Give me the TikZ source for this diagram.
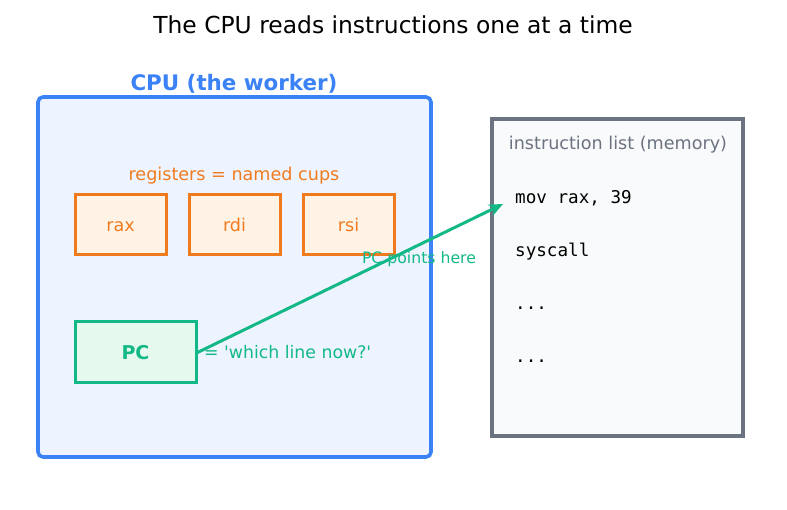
\documentclass[tikz,border=0pt]{standalone}
\usepackage{fontspec}
\setmainfont{DejaVu Sans}
\setmonofont{DejaVu Sans Mono}
\usetikzlibrary{arrows.meta}

\definecolor{cpublue}{HTML}{3B82F6}
\definecolor{cpufill}{HTML}{EEF4FF}
\definecolor{regorange}{HTML}{F07B1F}
\definecolor{regfill}{HTML}{FFF3E6}
\definecolor{pcgreen}{HTML}{12B886}
\definecolor{pcfill}{HTML}{E6F9EF}
\definecolor{memgray}{HTML}{6B7280}
\definecolor{memfill}{HTML}{F9FAFB}

\tikzset{
  regbox/.style={draw=regorange, fill=regfill, line width=3pt, minimum width=91pt, minimum height=60pt,
    text height=13pt, text depth=0pt, text=regorange, font=\fontsize{17.6}{21}\selectfont},
  codeline/.style={anchor=base west, inner sep=0pt, font=\ttfamily\fontsize{17.6}{21}\selectfont}
}

\begin{document}
\begin{tikzpicture}[x=1pt,y=-1pt]
\useasboundingbox (0,0) rectangle (787,510);
\node[anchor=base] (title) at (393,33.5) {\fontsize{23.4}{28}\selectfont The CPU reads instructions one at a time};

% the CPU
\draw[draw=cpublue, fill=cpufill, line width=3.6pt, rounded corners=5pt] (38,97) rectangle (431,457);
\node[anchor=base, text=cpublue, font=\bfseries\fontsize{21.4}{25}\selectfont] (cpulabel) at (234,90.5) {CPU (the worker)};
\node[anchor=base, text=regorange, font=\fontsize{17.6}{21}\selectfont] (reglabel) at (234,180.5) {registers = named cups};
\node[regbox] (rax) at (120.5,225) {rax};
\node[regbox] (rdi) at (234.5,225) {rdi};
\node[regbox] (rsi) at (348.5,225) {rsi};
\node[draw=pcgreen, fill=pcfill, line width=3pt, minimum width=121pt, minimum height=61pt,
  text=pcgreen, font=\bfseries\fontsize{19}{22}\selectfont] (pc) at (135.5,352.5) {PC};
\node[anchor=base west, text=pcgreen, font=\fontsize{17.3}{21}\selectfont, inner sep=0pt] (pcnote) at (204,359)
  {= \textquotesingle which line now?\textquotesingle};

% memory
\draw[draw=memgray, fill=memfill, line width=3.2pt] (492,119) rectangle (743,436);
\node[anchor=base, text=memgray, font=\fontsize{17.6}{21}\selectfont] (memlabel) at (618,149.5) {instruction list (memory)};
\node[codeline] (l1) at (515,203.5) {mov rax, 39};
\node[codeline] (l2) at (515,256.5) {syscall};
\node[codeline] (l3) at (515,309.5) {...};
\node[codeline] (l4) at (515,362.5) {...};

\coordinate (tip) at (503,204);
\draw[pcgreen, line width=3pt, -{Stealth[length=14pt,width=12pt,inset=4pt]}] (pc.east) -- (tip);
\node[anchor=base, text=pcgreen, font=\fontsize{15.7}{19}\selectfont] (pclabel) at (419,264) {PC points here};
\end{tikzpicture}
\end{document}
